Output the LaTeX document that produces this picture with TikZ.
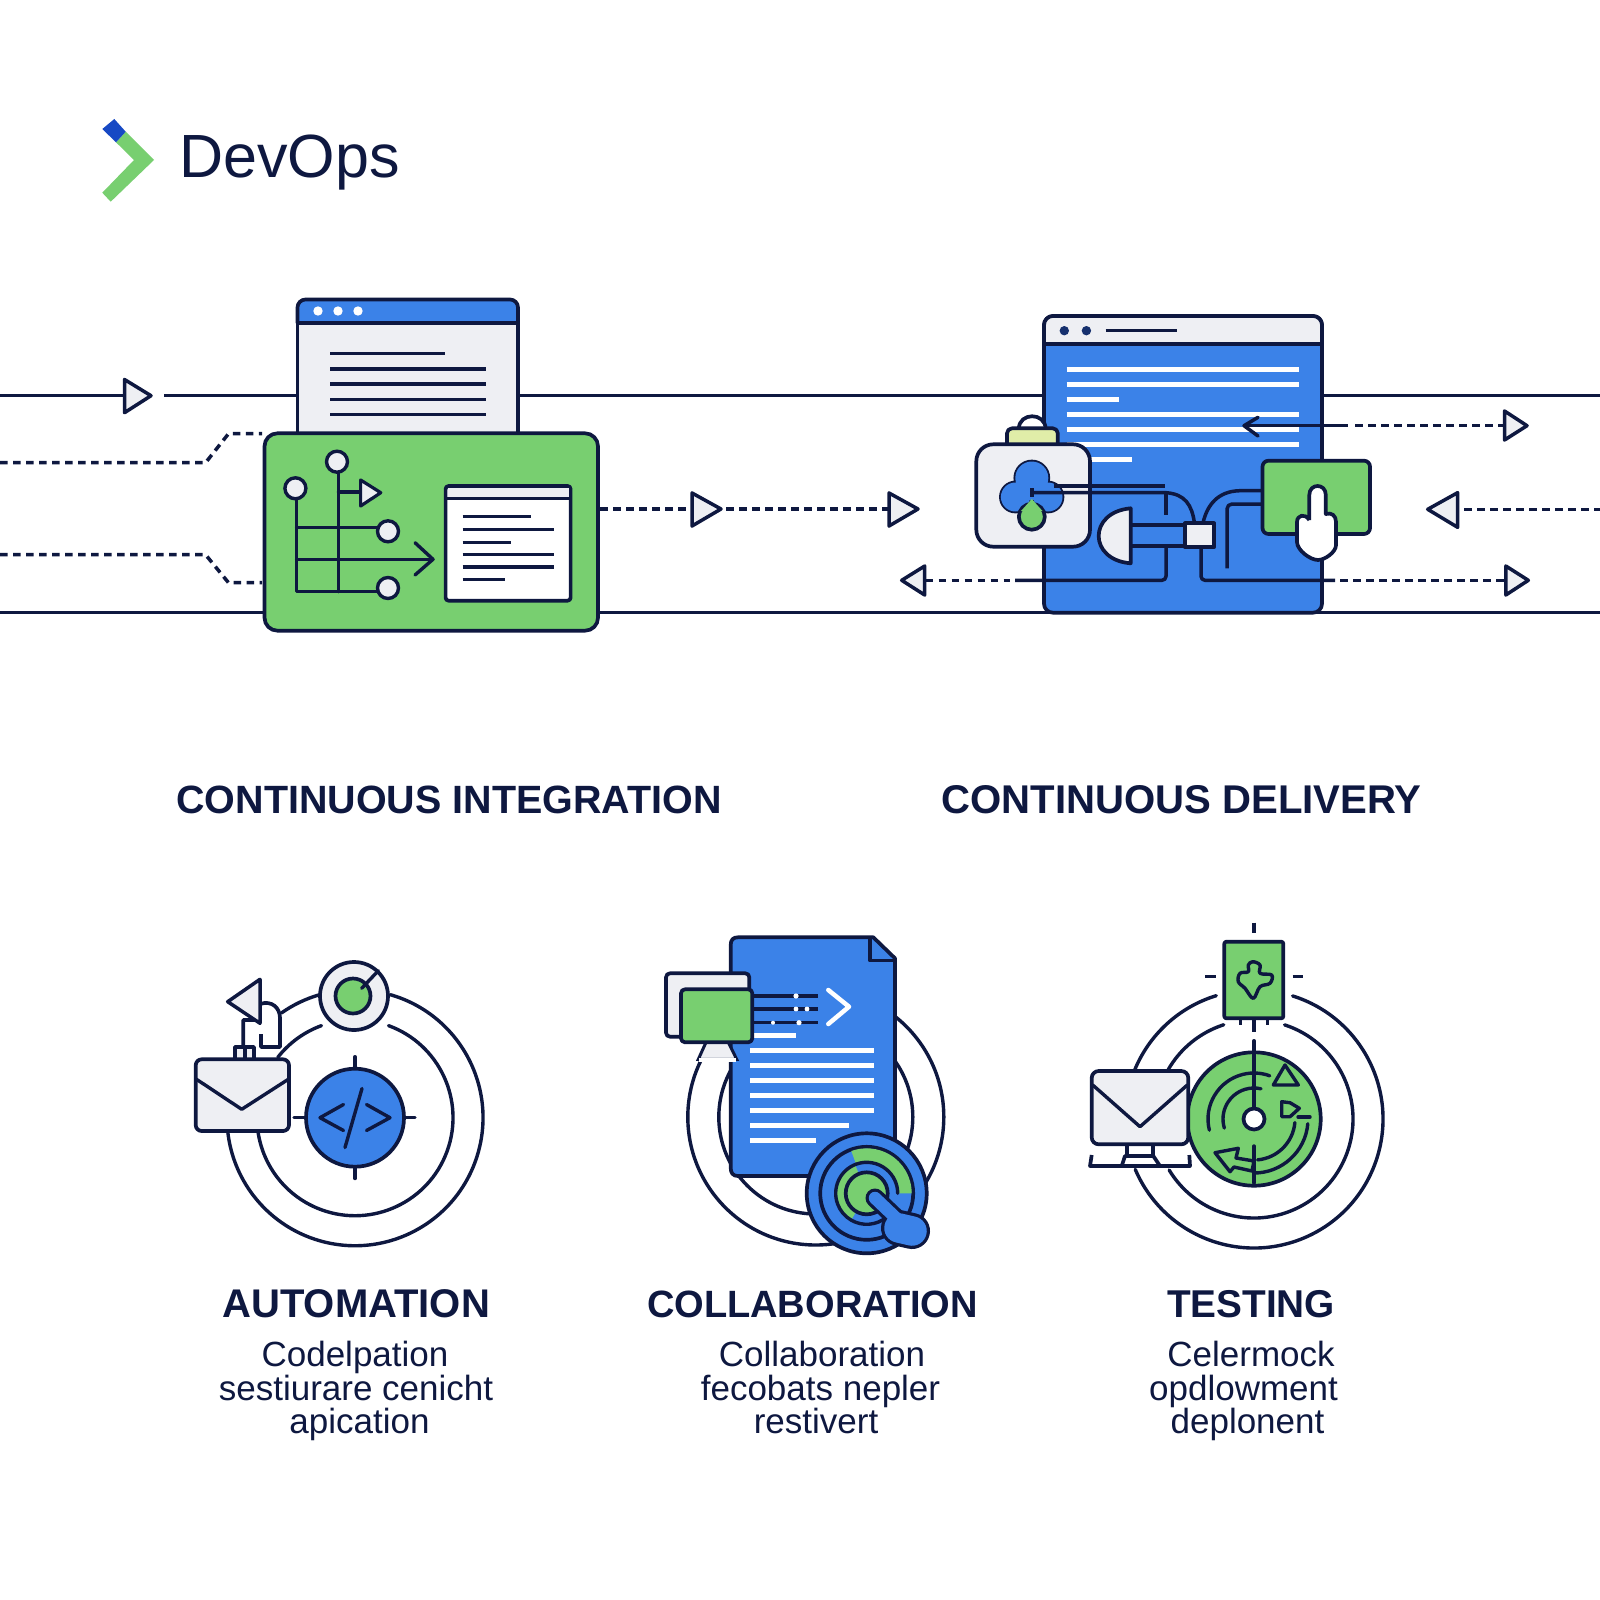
\documentclass[tikz,border=0pt]{standalone}
\usepackage{fontspec}
\setmainfont{Liberation Sans}
\usetikzlibrary{calc}
\definecolor{navy}{HTML}{0E1840}
\definecolor{bblue}{HTML}{3B82E8}
\definecolor{ggreen}{HTML}{78CF70}
\definecolor{lgray}{HTML}{EEEFF3}
\definecolor{lime}{HTML}{E0EDA8}
\definecolor{dblue}{HTML}{1749C4}
\definecolor{dotblue}{HTML}{16306E}
\tikzset{
 ln/.style={draw=navy,line width=3.5pt,line join=round},
 thn/.style={draw=navy,line width=3.4pt,line cap=round,line join=round},
 box/.style={draw=navy,line width=3.7pt,line join=round},
 dsh/.style={draw=navy,line width=3.5pt,dash pattern=on 7.5pt off 5.5pt},
 wl/.style={draw=white,line width=5pt},
 tri/.style={draw=navy,fill=lgray,line width=3.5pt,line join=round},
 head/.style={font=\fontsize{40}{48}\selectfont\bfseries,text=navy,inner sep=0pt,anchor=base},
 desc/.style={font=\fontsize{35}{42}\selectfont,text=navy,inner sep=0pt,anchor=base},
}
\begin{document}
\begin{tikzpicture}[x=1pt,y=-1pt]
\useasboundingbox (0,0) rectangle (1600,1600);
\fill[white] (0,0) rectangle (1600,1600);
% logo
\fill[ggreen] (116,142.3) -- (125.7,131.7) -- (154,160) -- (110.7,201.7) -- (102.3,192.7) -- (134,160) -- cycle;
\fill[dblue] (102.3,129) -- (114.3,119) -- (125.7,131.7) -- (116,142.3) -- cycle;
\node[inner sep=0pt,anchor=base west,text=navy,font=\fontsize{61}{70}\selectfont] (title) at (179,177.3) {DevOps};
% main lines
\coordinate (L1) at (0,395.5); \coordinate (L1b) at (164,395.5); \coordinate (R1) at (1600,395.5);
\coordinate (L2) at (0,612.7); \coordinate (R2) at (1600,612.7);
\draw[ln] (L1) -- (124.5,395.5);
\draw[ln] (L1b) -- (R1);
\draw[ln] (L2) -- (R2);
\draw[tri] (124.5,379.5) -- (151,395.7) -- (124.5,412.7) -- cycle;
% dashed left
\draw[dsh] (0,462.7) -- (205.6,462.7) -- (228.5,433.7) -- (262,433.7);
\draw[dsh] (0,554.7) -- (205.6,554.7) -- (228.5,582.7) -- (262,582.7);
% CI window
\fill[lgray] (297.5,322) rectangle (518,435);
\draw[box,fill=bblue] (297.5,323) [rounded corners=8pt] -- (297.5,299.5) -- (518,299.5) [sharp corners] -- (518,323) -- cycle;
\draw[box] (297.5,323) -- (297.5,435) (518,323) -- (518,435);
\foreach \xx in {318,338,358} \fill[white] (\xx,311) circle (4.7pt);
\draw[ln] (330,353.3) -- (444.5,353.3) (330,369) -- (486,369) (330,384) -- (486,384) (330,399.3) -- (486,399.3) (330,414.7) -- (486,414.7);
% CI green
\draw[box,fill=ggreen,rounded corners=13pt] (264.5,433.3) rectangle (598,630.7);
\draw[thn] (296.5,488) -- (296.5,591.7) -- (378,591.7);
\draw[thn] (338.5,461) -- (338.5,591.7);
\draw[thn] (296.5,527.3) -- (378,527.3);
\draw[thn] (296.5,559.3) -- (433,559.3);
\draw[thn] (415,542.7) -- (433,559.3) -- (415,575);
\draw[thn] (338.5,492) -- (360.6,492);
\draw[tri,line width=3.2pt] (360.6,480) -- (380.8,492.7) -- (360.6,506) -- cycle;
\foreach \xx/\yy in {295.4/488.3,337/461.7,388/531.3,388/588}
  \draw[draw=navy,fill=lgray,line width=3.4pt] (\xx,\yy) circle (10.5pt);
\draw[box,fill=white,rounded corners=3pt] (445.6,486) rectangle (570.6,600.7);
\fill[lgray] (447.5,488) rectangle (569,497);
\draw[ln] (445.6,498.3) -- (570.6,498.3);
\draw[ln] (462.6,516.7) -- (531,516.7) (462.6,529.3) -- (554.4,529.3) (462.6,542.3) -- (511,542.3) (462.6,554.7) -- (554.4,554.7) (462.6,567) -- (554.4,567) (462.6,579.3) -- (505,579.3);
% mid dashed
\draw[dsh] (600,509) -- (692,509);
\draw[tri] (692,493) -- (721,509) -- (692,526) -- cycle;
\draw[dsh] (726,509) -- (889,509);
\draw[tri] (889,493) -- (918,509) -- (889,526) -- cycle;
% CD window
\draw[box,fill=bblue,rounded corners=9pt] (1044,316) rectangle (1322,612.7);
\draw[box,fill=lgray] (1044,344) [rounded corners=9pt] -- (1044,316) -- (1322,316) [sharp corners] -- (1322,344) -- cycle;
\fill[dotblue] (1064.3,330.7) circle (4.7pt) (1086.4,330.7) circle (4.7pt);
\draw[ln] (1105.5,330.7) -- (1177,330.7);
\draw[wl] (1066.5,369) -- (1298.5,369) (1066.5,384) -- (1298.5,384) (1066.5,399.3) -- (1119.4,399.3) (1066.5,414.3) -- (1298.5,414.3) (1066.5,429.3) -- (1298.5,429.3) (1066.5,444.3) -- (1298.5,444.3) (1066.5,459.7) -- (1131.5,459.7);
% CD arrows
\draw[ln] (1244,425.7) -- (1347.5,425.7);
\draw[ln,line cap=round] (1258,417.3) -- (1244,425.7) -- (1258,436);
\draw[dsh] (1355,425.7) -- (1504.5,425.7);
\draw[tri] (1504.5,411) -- (1527,425.7) -- (1504.5,440) -- cycle;
\draw[dsh] (1464,509.3) -- (1600,509.3);
\draw[tri] (1457.6,492.7) -- (1427.7,509.3) -- (1457.6,527.3) -- cycle;
\draw[tri] (924.7,566) -- (901.7,580.3) -- (924.7,595) -- cycle;
\draw[dsh] (925.5,580.3) -- (1010,580.3);
\draw[ln,rounded corners=4pt] (1015,580.3) -- (1166,580.3) -- (1166,548);
\draw[ln] (1166,492.7) -- (1166,515);
\draw[ln,rounded corners=4pt] (1201,547) -- (1201,580.3) -- (1335,580.3);
\draw[dsh] (1340,580.3) -- (1505,580.3);
\draw[tri] (1505.8,566) -- (1528.3,580.3) -- (1505.8,595) -- cycle;
% jar
\draw[box,fill=white] (1018.8,429) .. controls (1018.8,412) and (1045.6,412) .. (1045.6,429) -- cycle;
\draw[box,fill=lime,rounded corners=5pt] (1007,446) -- (1007,428.3) -- (1057.8,428.3) -- (1057.8,446);
\draw[box,fill=lgray,rounded corners=17pt] (976.3,444.3) rectangle (1090,546.7);
\draw[box,fill=bblue] (1031.8,478) circle (16.5pt) (1015.4,497) circle (14.5pt) (1048,497) circle (14.5pt);
\fill[bblue] (1031.8,478) circle (16.5pt) (1015.4,497) circle (14.5pt) (1048,497) circle (14.5pt);
\draw[box,fill=ggreen] (1031.8,516.7) circle (13pt);
\fill[bblue] (1020,480) rectangle (1043,500);
\fill[ggreen] (1031.8,499) -- (1021,511) -- (1042.5,511) -- cycle;
% wires
\draw[ln] (1053.5,486) -- (1165.3,486);
\draw[ln] (1031.8,488) -- (1031.8,497);
\draw[ln] (1031.8,492.7) -- (1166,492.7) .. controls (1185,494) and (1192,505) .. (1194.4,523);
\draw[ln] (1262.5,490.7) -- (1240,490.7) .. controls (1218,491) and (1207,505) .. (1203,523);
\draw[ln,rounded corners=5pt] (1262.5,504) -- (1227,504) -- (1227,568.3);
% plug
\draw[ln,fill=bblue] (1130.7,525) rectangle (1185,546);
\draw[box,fill=lgray] (1130.7,508.3) .. controls (1088,512) and (1088,560) .. (1130.7,563.3) -- cycle;
\draw[box,fill=lgray] (1185,523.3) rectangle (1214,547.3);
% green pad and hand
\draw[box,fill=ggreen,rounded corners=6pt] (1262.5,460.7) rectangle (1370,534);
\draw[box,fill=white] (1309.3,520) -- (1309.3,495) .. controls (1309.3,483) and (1325.8,483) .. (1325.8,495) -- (1325.8,514)
 .. controls (1332,512) and (1336,516) .. (1336,522) -- (1336,545) .. controls (1336,552) and (1325,560) .. (1318,560) .. controls (1310,560) and (1297,550) .. (1297,542) -- (1297,522) .. controls (1297,515) and (1305,513) .. (1309.3,520);
\fill[white] (1305,535) rectangle (1330,550);
% headings
\node[head] (ci) at (449,813.5) {\resizebox{545pt}{!}{CONTINUOUS INTEGRATION}};
\node[head] (cd) at (1181.5,813.5) {\resizebox{480pt}{!}{CONTINUOUS DELIVERY}};
% ---------- automation
\draw[thn] (355,1117.7) ++(74:128pt) arc[start angle=74,end angle=-174,radius=128pt];
\draw[thn] (355,1117.7) ++(106:128pt) arc[start angle=106,end angle=125,radius=128pt];
\draw[thn] (355,1117.7) ++(70:98pt) arc[start angle=70,end angle=-172,radius=98pt];
\draw[thn] (355,1117.7) ++(110:98pt) arc[start angle=110,end angle=142,radius=98pt];
\draw[box,fill=bblue] (355,1117.7) circle (49pt);
\draw[thn] (355,1056.7) -- (355,1068) (355,1167.5) -- (355,1178.5) (294,1117.7) -- (306,1117.7) (404,1117.7) -- (415,1117.7);
\draw[thn] (343.5,1104.5) -- (320,1117.7) -- (343.5,1130.5) (366.5,1104.5) -- (390,1117.7) -- (366.5,1130.5) (362,1088.5) -- (345,1147.5);
\draw[box,fill=lgray] (354,996) circle (34pt);
\draw[box,fill=ggreen] (353,996) circle (17.5pt);
\draw[thn] (361.7,988.3) -- (378.3,970.7);
% hand shape
\draw[box,fill=white] (243.3,1048) -- (243.3,1020) -- (260,1020) -- (260,1004) .. controls (272,1000) and (280,1008) .. (280,1018) -- (280,1047) -- (261,1047) -- (261,1034);
\draw[box,fill=lgray] (235,1060) -- (235,1047) -- (254,1047) -- (254,1060);
\draw[thn] (245,1048) -- (245,1060);
\draw[tri] (260,979.3) -- (227.7,1001.7) -- (260,1023.3) -- cycle;
\draw[box,fill=lgray,rounded corners=6pt] (195.7,1059.3) rectangle (289,1131);
\draw[thn] (196.5,1079.3) -- (241.7,1109.3) -- (288.3,1079.3);
% ---------- collaboration
\draw[thn] (815.8,1117) circle (128pt) (815.8,1117) circle (97pt);
\draw[box,fill=bblue] (738,937.3) -- (873.3,937.3) -- (895,958.3) -- (895,1176) -- (738,1176) .. controls (733,1176) and (730.7,1173) .. (730.7,1168) -- (730.7,945) .. controls (730.7,940) and (733,937.3) .. (738,937.3) -- cycle;
\draw[thn] (870,938) -- (870,960.7) -- (895,960.7);
\draw[wl] (750,1035) -- (795.7,1035) (750,1050) -- (874.3,1050) (750,1065) -- (874.3,1065) (750,1080) -- (874.3,1080) (750,1095.3) -- (874.3,1095.3) (750,1110.7) -- (874.3,1110.7) (750,1125.7) -- (848.7,1125.7) (750,1140.7) -- (815.7,1140.7);
\draw[ln] (750,996) -- (818.3,996) (750,1009) -- (818.3,1009) (750,1022.7) -- (818.3,1022.7);
\fill[white] (796,996) circle (2.6pt) (796,1009) circle (2.4pt) (807,1009) circle (2.4pt) (773,1022.7) circle (2pt) (799,1022.7) circle (2.6pt);
\draw[draw=white,line width=4.5pt,line cap=round,line join=round] (828.3,990) -- (849,1006.7) -- (828.3,1024);
\draw[draw=navy,line width=3pt,fill=lgray] (706,1042.3) -- (698.3,1059.3) -- (736.7,1059.3) -- (728.3,1042.3) -- cycle;
\fill[white] (699,1058) rectangle (736,1062);
\draw[box,fill=lgray,rounded corners=4pt] (666,973.3) rectangle (749.3,1036.7);
\draw[box,fill=ggreen,rounded corners=4pt] (681,989.3) rectangle (752.3,1042.3);
% target
\coordinate (tc) at (866.7,1193.3);
\draw[box,fill=bblue] (tc) circle (60pt);
\draw[box,fill=bblue] (tc) circle (46.5pt);
\fill[ggreen] (tc) ++(0:45pt) arc[start angle=0,end angle=110,radius=45pt] -- ++(-70:14pt) arc[start angle=110,end angle=0,radius=31pt] -- cycle;
\fill[ggreen] (tc) ++(112:31pt) arc[start angle=112,end angle=240,radius=31pt] -- (tc) -- cycle;
\draw[thn] (tc) ++(-50:31pt) arc[start angle=-50,end angle=-120,radius=31pt];
\draw[thn] (tc) ++(110:31pt) arc[start angle=110,end angle=0,radius=31pt];
\draw[thn] (tc) ++(110:31pt) arc[start angle=110,end angle=240,radius=31pt];
\draw[box,fill=ggreen] (tc) circle (21pt);
% pointer
\coordinate (f1) at (875,1198); \coordinate (f2) at (897,1219); \coordinate (p1) at (899,1228); \coordinate (p2) at (912,1231);
\draw[draw=navy,line width=19pt,line cap=round] (f1) -- (f2);
\draw[draw=navy,line width=36pt,line cap=round] (p1) -- (p2);
\draw[draw=bblue,line width=12.5pt,line cap=round] (f1) -- (f2);
\draw[draw=bblue,line width=29.5pt,line cap=round] (p1) -- (p2);
% ---------- testing
\coordinate (tt) at (1254,1119);
\draw[thn] (tt) ++(72.6:129pt) arc[start angle=72.6,end angle=-157,radius=129pt];
\draw[thn] (tt) ++(107:129pt) arc[start angle=107,end angle=158,radius=129pt];
\draw[thn] (tt) ++(72:99pt) arc[start angle=72,end angle=-149,radius=99pt];
\draw[thn] (tt) ++(107.8:99pt) arc[start angle=107.8,end angle=150,radius=99pt];
\draw[box,fill=ggreen] (tt) circle (66.7pt);
\draw[box,fill=ggreen,rounded corners=2pt] (1224.3,941.7) rectangle (1283.3,1018.3);
\draw[thn] plot[smooth cycle,tension=.6] coordinates {(1252.7,961.7) (1260,965) (1260,973.3) (1271.7,975) (1270,983.3) (1260,986.7) (1253.3,998.3) (1245,988.3) (1238.3,981.7) (1240,973.3) (1248.3,971.7) (1248.3,965)};
\draw[thn,line cap=butt] (1254,922.7) -- (1254,933.3) (1205,976.7) -- (1215.7,976.7) (1292.7,976.7) -- (1303.3,976.7) (1240.7,1019) -- (1240.7,1025) (1254,1019) -- (1254,1031.7) (1267.7,1019) -- (1267.7,1025);
\draw[thn] (1254,1040.7) -- (1254,1108) (1254,1146) -- (1254,1183);
\draw[thn] (tt) ++(194:46pt) arc[start angle=194,end angle=70,radius=46pt];
\draw[thn] (tt) ++(197:31pt) arc[start angle=197,end angle=77,radius=31pt];
\draw[thn] (1285,1065) -- (1273.3,1085) -- (1298.3,1085) -- cycle;
\draw[thn] (tt) ++(-5:54pt) arc[start angle=-5,end angle=-90,radius=54pt];
\draw[thn] (tt) ++(-5:41pt) arc[start angle=-5,end angle=-85,radius=41pt];
\draw[thn] (1254,1163.5) -- (1238,1159);
\draw[thn,fill=ggreen] (1215,1152.7) -- (1238.3,1148.3) -- (1236,1158) -- (1254,1161) -- (1252,1171) -- (1234,1167) -- (1230,1171.7) -- cycle;
\draw[thn] (1281.7,1101.7) -- (1290,1102.7) -- (1299.3,1108.3) -- (1290,1116.7) -- (1281.7,1116.7) -- cycle;
\draw[thn] (1298,1117) -- (1310,1117);
\draw[box,fill=white] (tt) circle (10.5pt);
\draw[box,fill=white] (1091.7,1155) -- (1090,1166) -- (1190,1166) -- (1189.3,1155);
\draw[box,fill=white] (1126.7,1144) rectangle (1152.7,1156);
\draw[box,fill=white] (1125,1156) -- (1121.7,1166) -- (1160,1166) -- (1153.3,1156) -- cycle;
\draw[box,fill=lgray,rounded corners=7pt] (1091.7,1071) rectangle (1188.3,1144.3);
\draw[thn] (1092.7,1085) -- (1140,1126.7) -- (1187.3,1085);
% labels
\node[head] (a1) at (356.2,1317.7) {\resizebox{267.5pt}{!}{AUTOMATION}};
\node[head] (b1) at (812.5,1317.7) {\resizebox{331pt}{!}{COLLABORATION}};
\node[head] (c1) at (1251,1317.7) {\resizebox{168pt}{!}{TESTING}};
\node[desc] (a2) at (355,1366) {Codelpation};
\node[desc] (a3) at (356,1400) {sestiurare cenicht};
\node[desc] (a4) at (359.5,1433.5) {apication};
\node[desc] (b2) at (822,1366) {Collaboration};
\node[desc] (b3) at (820.5,1400) {fecobats nepler};
\node[desc] (b4) at (816,1433.5) {restivert};
\node[desc] (c2) at (1251,1366) {Celermock};
\node[desc] (c3) at (1243.5,1400) {opdlowment};
\node[desc] (c4) at (1247.5,1433.5) {deplonent};
\end{tikzpicture}
\end{document}
